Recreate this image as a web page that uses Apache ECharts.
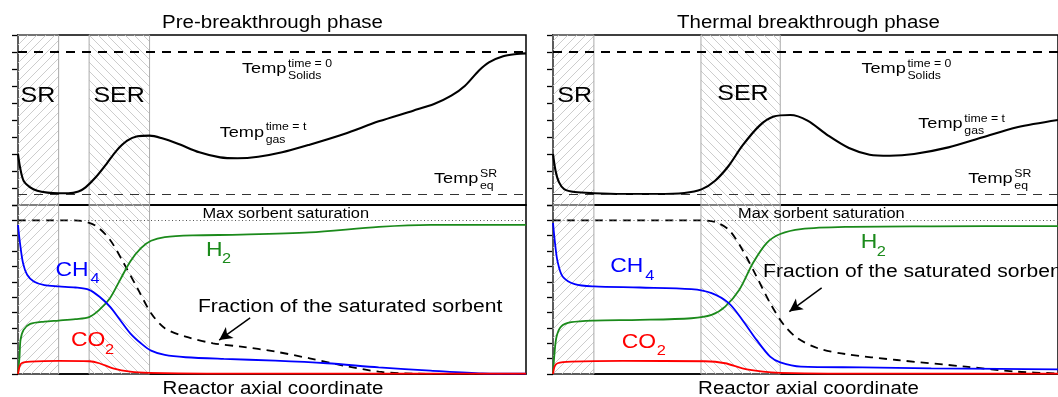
<!DOCTYPE html>
<html><head><meta charset="utf-8">
<script src="https://cdn.jsdelivr.net/npm/echarts@6/dist/echarts.min.js"></script>
<style>html,body{margin:0;padding:0;background:#fff}#c{width:1058px;height:397px}</style>
</head><body><div id="c"></div>
<script>
// ---------- DATA (x = fraction of reactor length) ----------
// Pre-breakthrough phase: gas temperature (top panel, arbitrary units 0..10)
const preTempX = [0,0.004,0.011,0.024,0.038,0.058,0.080,0.099,0.119,0.133,0.153,0.174,0.194,0.215,0.235,0.259,0.282,0.316,0.357,0.398,0.432,0.473,0.520,0.574,0.642,0.710,0.778,0.819,0.853,0.880,0.907,0.927,0.955,0.982,1.0];
const preTempV = [3.0,2.22,1.43,1.04,0.84,0.73,0.69,0.69,0.80,1.04,1.63,2.41,3.20,3.78,4.04,4.08,3.94,3.59,3.10,2.80,2.75,2.84,3.10,3.55,4.18,4.92,5.55,5.94,6.43,7.02,7.90,8.39,8.75,8.88,8.92];
// Pre-breakthrough phase: compositions (bottom panel, 0..1.1)
const preCH4X = [0,0.004,0.010,0.018,0.031,0.052,0.080,0.113,0.140,0.160,0.181,0.201,0.221,0.242,0.262,0.289,0.330,0.405,0.506,0.608,0.710,0.812,0.914,1.0];
const preCH4  = [0.97,0.85,0.72,0.646,0.602,0.578,0.570,0.563,0.548,0.504,0.439,0.352,0.265,0.200,0.152,0.124,0.109,0.098,0.087,0.070,0.043,0.022,0.004,0.002];
const preH2X  = [0,0.003,0.005,0.011,0.024,0.052,0.080,0.113,0.140,0.160,0.181,0.201,0.221,0.242,0.262,0.289,0.344,0.439,0.574,0.710,0.812,1.0];
const preH2   = [0,0.113,0.222,0.287,0.326,0.341,0.348,0.357,0.370,0.417,0.493,0.613,0.733,0.820,0.867,0.891,0.902,0.907,0.922,0.957,0.970,0.970];
const preCO2X = [0,0.003,0.007,0.024,0.080,0.140,0.160,0.187,0.221,0.259,0.371,1.0];
const preCO2  = [0,0.048,0.070,0.080,0.085,0.083,0.070,0.037,0.015,0.007,0.002,0.002];
const preSorbX = [0,0.099,0.126,0.153,0.181,0.208,0.235,0.262,0.289,0.330,0.384,0.439,0.506,0.574,0.642,0.710,0.778,1.0];
const preSorb  = [1.0,1.0,0.996,0.965,0.874,0.722,0.559,0.396,0.298,0.243,0.200,0.178,0.146,0.102,0.054,0.015,0.002,0];

// Thermal breakthrough phase
const thTempX = [0,0.005,0.012,0.022,0.043,0.081,0.138,0.206,0.260,0.294,0.321,0.348,0.375,0.409,0.437,0.470,0.504,0.545,0.586,0.627,0.667,0.715,0.783,0.851,0.919,1.0];
const thTempV = [3.0,2.02,1.33,0.94,0.76,0.69,0.65,0.65,0.71,0.92,1.43,2.31,3.49,4.67,5.20,5.29,4.96,4.08,3.35,2.96,2.90,3.00,3.39,3.98,4.57,5.0];
const thCH4X = [0,0.004,0.009,0.019,0.043,0.081,0.172,0.274,0.314,0.348,0.375,0.403,0.430,0.450,0.491,0.613,0.749,0.885,1.0];
const thCH4  = [0.983,0.852,0.733,0.635,0.585,0.570,0.563,0.552,0.526,0.461,0.352,0.222,0.113,0.076,0.048,0.043,0.037,0.033,0.030];
const thH2X  = [0,0.003,0.007,0.016,0.036,0.081,0.172,0.274,0.314,0.341,0.369,0.396,0.423,0.450,0.491,0.579,0.749,1.0];
const thH2   = [0,0.135,0.243,0.309,0.337,0.348,0.352,0.363,0.385,0.439,0.548,0.722,0.852,0.911,0.943,0.957,0.961,0.963];
const thCO2X = [0,0.003,0.009,0.036,0.138,0.301,0.341,0.375,0.416,0.450,0.545,1.0];
const thCO2  = [0,0.048,0.070,0.080,0.085,0.083,0.070,0.037,0.015,0.007,0.002,0.002];
const thSorbX = [0,0.287,0.321,0.348,0.375,0.403,0.430,0.457,0.484,0.525,0.579,0.681,0.817,0.919,1.0];
const thSorb  = [1.0,1.0,0.989,0.939,0.809,0.635,0.461,0.320,0.233,0.167,0.130,0.091,0.048,0.015,0.004];

// Zones (reactor fractions)
const preSR = [0, 0.080], preSER = [0.140, 0.259];
const thSR  = [0, 0.081], thSER  = [0.293, 0.450];
// Reference levels
const tempSolids = 9, tempEq = 0.65, maxSat = 1.0;
// Annotation arrows [tail, head]
const preArrow = [[0.457, 0.365], [0.396, 0.221]];
const thArrow  = [[0.532, 0.560], [0.468, 0.406]];
// Texts
const titles = ['Pre-breakthrough phase', 'Thermal breakthrough phase'];
const xTitle = 'Reactor axial coordinate';

// ---------- CHART ----------
const FONT = '"Liberation Sans", Arial, sans-serif';
const SX = 1.17;
function hatch(dir) {
  const n = 9;
  const c = document.createElement('canvas'); c.width = n; c.height = n;
  const g = c.getContext('2d'); g.strokeStyle = '#cdcdcd'; g.lineWidth = 1; g.beginPath();
  if (dir > 0) { g.moveTo(0, n); g.lineTo(n, 0); g.moveTo(-2, 2); g.lineTo(2, -2); g.moveTo(n - 2, n + 2); g.lineTo(n + 2, n - 2); }
  else { g.moveTo(0, 0); g.lineTo(n, n); g.moveTo(-2, n - 2); g.lineTo(2, n + 2); g.moveTo(n - 2, -2); g.lineTo(n + 2, 2); }
  g.stroke(); return c;
}
const hatchA = hatch(1), hatchB = hatch(-1);
function zones(sr, ser) {
  return { silent: true, data: [
    [{ xAxis: sr[0], itemStyle: { color: { image: hatchA, repeat: 'repeat' }, borderColor: '#aaaaaa', borderWidth: 1 } }, { xAxis: sr[1] }],
    [{ xAxis: ser[0], itemStyle: { color: { image: hatchB, repeat: 'repeat' }, borderColor: '#aaaaaa', borderWidth: 1 } }, { xAxis: ser[1] }]
  ] };
}
function pts(xs, ys) { return xs.map((x, i) => [x, ys[i]]); }
function line(xs, ys, color, width, gi, extra) {
  return Object.assign({ type: 'line', xAxisIndex: gi, yAxisIndex: gi, data: pts(xs, ys), showSymbol: false,
    smooth: 0.3, silent: true, animation: false, z: 3,
    lineStyle: { color: color, width: width } }, extra || {});
}
const grids = [
  { left: 18, top: 35, width: 508, height: 170 },
  { left: 18, top: 205, width: 508, height: 169 },
  { left: 553, top: 35, width: 508, height: 170 },
  { left: 553, top: 205, width: 508, height: 169 }
].map(g => Object.assign(g, { show: true, borderColor: '#000', borderWidth: 1.5, backgroundColor: 'transparent', containLabel: false }));
const xAxes = grids.map((g, i) => ({ type: 'value', gridIndex: i, min: 0, max: 1, axisLabel: { show: false }, axisTick: { show: false }, splitLine: { show: false }, axisLine: { show: true, lineStyle: { color: '#000', width: 1.5 } } }));
const yAxes = grids.map((g, i) => {
  const top = i % 2 === 0;
  return { type: 'value', gridIndex: i, min: 0, max: top ? 10 : 1.1, interval: top ? 1 : 0.1,
    axisLabel: { show: false }, splitLine: { show: false },
    axisLine: { show: true, lineStyle: { color: '#000', width: 1.5 } },
    axisTick: { show: true, inside: false, length: 6, lineStyle: { color: '#000', width: 1.3 } } };
});
function refLines() {
  return { symbol: 'none', silent: true, label: { show: false }, data: [
    { yAxis: tempSolids, lineStyle: { color: '#000', width: 1.8, type: [9, 7] } },
    { yAxis: tempEq, lineStyle: { color: '#333', width: 1.2, type: [9, 7] } }
  ] };
}
function satLine() {
  return { symbol: 'none', silent: true, label: { show: false }, data: [
    { yAxis: maxSat, lineStyle: { color: '#555', width: 1, type: [1, 2.5] } }
  ] };
}
function arrow(a) {
  return { symbol: ['none', 'arrow'], symbolSize: [10, 13], silent: true, label: { show: false },
    lineStyle: { color: '#000', width: 1.5, type: 'solid' },
    data: [[{ coord: a[0] }, { coord: a[1] }]] };
}
const BLUE = '#0000ff', GREEN = '#1b8a1b', RED = '#ff0000';
const series = [
  line(preTempX, preTempV, '#000', 2.1, 0, { markArea: zones(preSR, preSER), markLine: refLines() }),
  line(preSorbX, preSorb, '#000', 1.8, 1, { lineStyle: { color: '#000', width: 1.8, type: [8, 6] }, markArea: zones(preSR, preSER), markLine: satLine() }),
  line(preH2X, preH2, GREEN, 1.8, 1),
  line(preCH4X, preCH4, BLUE, 1.8, 1),
  line(preCO2X, preCO2, RED, 1.8, 1, { markLine: arrow(preArrow) }),
  line(thTempX, thTempV, '#000', 2.1, 2, { markArea: zones(thSR, thSER), markLine: refLines() }),
  line(thSorbX, thSorb, '#000', 1.8, 3, { lineStyle: { color: '#000', width: 1.8, type: [8, 6] }, markArea: zones(thSR, thSER), markLine: satLine() }),
  line(thH2X, thH2, GREEN, 1.8, 3),
  line(thCH4X, thCH4, BLUE, 1.8, 3),
  line(thCO2X, thCO2, RED, 1.8, 3, { markLine: arrow(thArrow) })
];
function txt(x, y, s, size, color, align) {
  return { type: 'text', x: x, y: y, scaleX: SX, silent: true, z: 10,
    style: { text: s, font: size + 'px ' + FONT, fill: color || '#000', textAlign: align || 'left', textVerticalAlign: 'middle', align: align || 'left', verticalAlign: 'middle' } };
}
function tempLabel(x, y, sup, sub) {
  return [txt(x, y, 'Temp', 15.5), txt(x + 46, y - 5, sup, 10.5), txt(x + 46, y + 7.5, sub, 10.5)];
}
function chem(x, y, main, sub, color, dx) {
  return [txt(x, y, main, 19.6, color), txt(x + dx, y + 9, sub, 14, color)];
}
const graphic = [].concat(
  txt(272.5, 23.5, titles[0], 17.5, '#000', 'center'),
  txt(808.5, 23.5, titles[1], 17.5, '#000', 'center'),
  txt(273, 389, xTitle, 17.5, '#000', 'center'),
  txt(808.5, 389, xTitle, 17.5, '#000', 'center'),
  txt(20.5, 96, 'SR', 21.4), txt(93.4, 96, 'SER', 21.4),
  txt(557.2, 96, 'SR', 21.4), txt(717.2, 94.5, 'SER', 21.4),
  tempLabel(242, 69, 'time = 0', 'Solids'),
  tempLabel(219.7, 132.5, 'time = t', 'gas'),
  tempLabel(434, 179, 'SR', 'eq'),
  tempLabel(861.4, 69, 'time = 0', 'Solids'),
  tempLabel(918.3, 124, 'time = t', 'gas'),
  tempLabel(968.3, 179, 'SR', 'eq'),
  txt(202.4, 213.8, 'Max sorbent saturation', 14),
  txt(738, 214.6, 'Max sorbent saturation', 14),
  txt(197.9, 306.7, 'Fraction of the saturated sorbent', 18),
  txt(763.1, 272.5, 'Fraction of the saturated sorbent', 18),
  chem(55.4, 270.3, 'CH', '4', BLUE, 35),
  chem(205.9, 250.3, 'H', '2', GREEN, 16),
  chem(70.9, 340.8, 'CO', '2', RED, 34),
  chem(610.3, 266.7, 'CH', '4', BLUE, 35),
  chem(860.7, 243, 'H', '2', GREEN, 16),
  chem(621.7, 342.2, 'CO', '2', RED, 35)
);
const chart = echarts.init(document.getElementById('c'), null, { renderer: 'canvas' });
chart.setOption({ animation: false, backgroundColor: '#fff', grid: grids, xAxis: xAxes, yAxis: yAxes, series: series, graphic: graphic });
</script></body></html>
